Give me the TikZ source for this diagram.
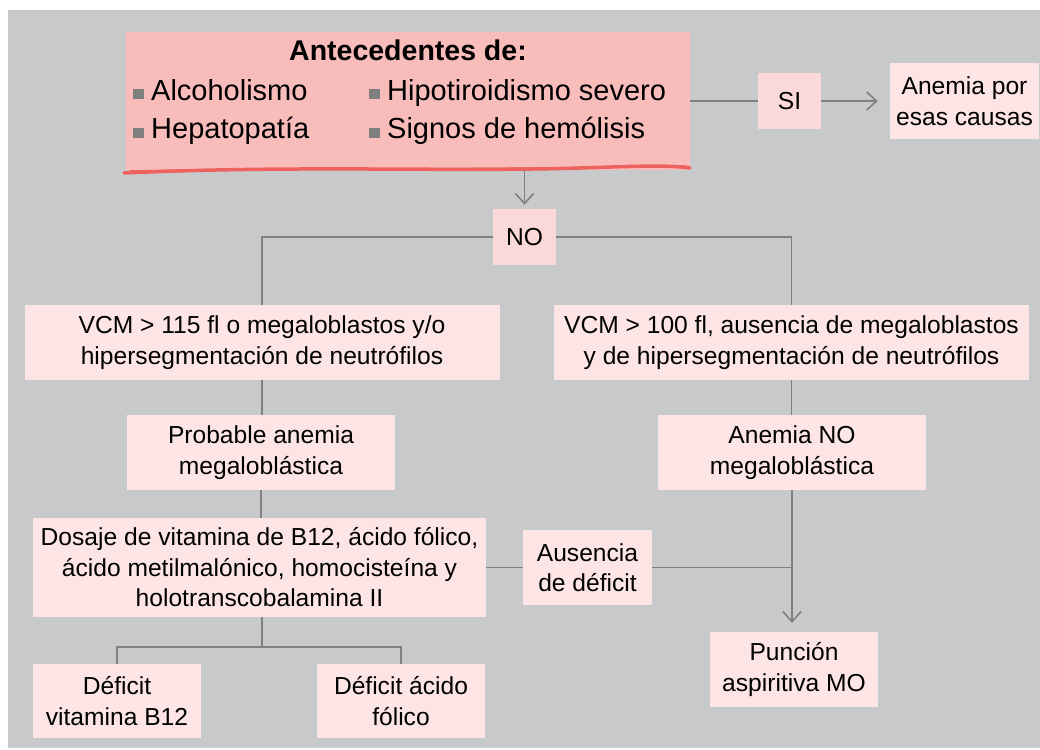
\documentclass[tikz,border=0pt]{standalone}
\usepackage{fontspec}
\setmainfont{Liberation Sans}
\usetikzlibrary{arrows.meta}
\definecolor{bg}{HTML}{C8C9CB}
\definecolor{topfill}{HTML}{F8BCBB}
\definecolor{midfill}{HTML}{FBD9D8}
\definecolor{boxfill}{HTML}{FDE5E5}
\definecolor{conn}{HTML}{808080}
\definecolor{redline}{HTML}{EE625D}
\definecolor{bullet}{HTML}{7F7F7F}
\begin{document}
\begin{tikzpicture}[x=1pt,y=-1pt,
 box/.style={rectangle, fill=boxfill, inner sep=0pt, align=center, font=\fontsize{24.6}{30.5}\selectfont},
 tag/.style={box, fill=midfill},
 link/.style={draw=conn, line width=1.6pt},
 arr/.style={link, -{Straight Barb[length=10pt,width=18pt]}},
 itemtext/.style={anchor=base west, inner sep=0pt, font=\fontsize{29}{34}\selectfont},
 bul/.style={fill=bullet}
]
\useasboundingbox (0,0) rectangle (1040,749);
\fill[bg] (8,10) rectangle (1040,748);

% top box
\node[rectangle, fill=topfill, minimum width=564pt, minimum height=138pt, inner sep=0pt] (top) at (408,101) {};
\draw[redline, line width=3.5pt, line cap=round] (124,173) .. controls (300,165) and (450,172) .. (580,168) .. controls (640,166) and (670,165) .. (690,168);
\draw[redline, line width=1.5pt, line cap=round] (130,171) .. controls (300,168) and (480,170) .. (686,166);
\node[anchor=base, inner sep=0pt, font=\fontsize{28.5}{34}\bfseries] (title) at (408,61) {Antecedentes de:};
\fill[bul] (133,89) rectangle (144,99.5);
\fill[bul] (133,127.5) rectangle (144,138);
\fill[bul] (369,89) rectangle (380,99.5);
\fill[bul] (369,127.5) rectangle (380,138);
\node[itemtext] (i1) at (151,101) {Alcoholismo};
\node[itemtext] (i2) at (151,139) {Hepatopatía};
\node[itemtext] (i3) at (387,101) {Hipotiroidismo severo};
\node[itemtext] (i4) at (387,139) {Signos de hemólisis};

% nodes
\node[tag, minimum width=63pt, minimum height=56pt] (si) at (789.5,101) {SI};
\node[box, minimum width=149pt, minimum height=75pt] (causas) at (964.5,101) {Anemia por\\esas causas};
\node[tag, minimum width=63pt, minimum height=56pt] (no) at (524.5,237) {NO};
\node[box, minimum width=475pt, minimum height=75pt] (vcmL) at (262,342.5) {VCM > 115 fl o megaloblastos y/o\\hipersegmentación de neutrófilos};
\node[box, minimum width=475pt, minimum height=75pt] (vcmR) at (791.5,342.5) {VCM > 100 fl, ausencia de megaloblastos\\y de hipersegmentación de neutrófilos};
\node[box, minimum width=268pt, minimum height=75pt] (prob) at (261,452.5) {Probable anemia\\megaloblástica};
\node[box, minimum width=268pt, minimum height=75pt] (anNO) at (792,452.5) {Anemia NO\\megaloblástica};
\node[box, minimum width=453pt, minimum height=99pt] (dos) at (259.5,567.5) {Dosaje de vitamina de B12, ácido fólico,\\ácido metilmalónico, homocisteína y\\holotranscobalamina II};
\node[box, minimum width=129pt, minimum height=75pt] (aus) at (587.5,567.5) {Ausencia\\de déficit};
\node[box, minimum width=168pt, minimum height=75pt] (pun) at (794,669.5) {Punción\\aspiritiva MO};
\node[box, minimum width=168pt, minimum height=74pt] (b12) at (117,701) {Déficit\\vitamina B12};
\node[box, minimum width=168pt, minimum height=74pt] (fol) at (401,701) {Déficit ácido\\fólico};
\coordinate (j) at (262,647);

% connectors
\draw[link] (top.east |- si.west) -- (si.west);
\draw[arr, shorten >=12pt] (si.east) -- (causas.west);
\draw[arr, shorten >=4pt] (no.north |- top.south) -- (no.north);
\draw[link] (no.west) -| (vcmL.north);
\draw[link] (no.east) -| (vcmR.north);
\draw[link] (vcmL.south) -- (vcmL.south |- prob.north);
\draw[link] (vcmR.south) -- (vcmR.south |- anNO.north);
\draw[link] (prob.south) -- (prob.south |- dos.north);
\draw[link] (dos.south -| j) -- (j);
\draw[link] (b12.north) |- (j) -| (fol.north);
\draw[link] (dos.east) -- (aus.west);
\draw[link] (aus.east) -- (aus.east -| anNO.south);
\draw[arr, shorten >=9pt] (anNO.south) -- (anNO.south |- pun.north);
\end{tikzpicture}
\end{document}
